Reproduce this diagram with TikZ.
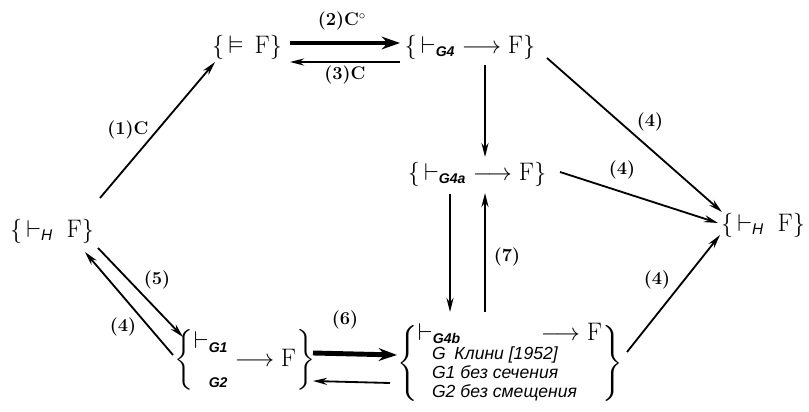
\documentclass[tikz,border=0pt]{standalone}
\usepackage{amsmath,amssymb}
\usepackage{fontspec}
\usetikzlibrary{arrows.meta,calc}
\newfontfamily\subfont{Liberation Sans}
\newcommand{\gsub}[1]{\mbox{\fontsize{10}{12}\selectfont\subfont\bfseries\itshape #1}}
\newcommand{\hsub}{\mbox{\fontsize{11}{12}\selectfont\subfont\itshape H}}
\newcommand{\rline}[1]{{\fontsize{12.5}{13.5}\selectfont\subfont\itshape\hspace*{10pt}#1}}

\begin{document}
\begin{tikzpicture}[x=0.025cm, y=-0.025cm,
  term/.style={inner sep=1pt, font=\fontsize{18}{22}\selectfont},
  lab/.style={inner sep=0pt, font=\fontsize{13}{15}\selectfont\bfseries},
  arr/.style={line width=1.3pt, -{Stealth[length=10pt, width=5pt]}},
  fatarr/.style={line width=3.5pt, -{Stealth[length=13pt, width=9pt]}}]
\useasboundingbox (0,0) rectangle (809,412);

\node[term] (hl) at (52,231) {$\{\,\vdash_{\hsub}\;\mathrm{F}\}$};
\node[term] (models) at (247,47) {$\{\,\vDash\,\mathrm{F}\}$};
\node[term] (g4) at (470,47) {$\{\,\vdash_{\gsub{G4}}\;\longrightarrow\mathrm{F}\}$};
\node[term] (g4a) at (477,174) {$\{\,\vdash_{\gsub{G4a}}\;\longrightarrow\mathrm{F}\}$};
\node[term] (hr) at (763,225) {$\{\,\vdash_{\hsub}\;\mathrm{F}\}$};
\node[term] (g12) at (245,360) {$\left\{\begin{array}{@{}l@{}}\vdash_{\gsub{G1}}\\[3pt]\phantom{\vdash}_{\gsub{G2}}\end{array}\longrightarrow\mathrm{F}\right\}$};
\node[term] (g4b) at (510,363) {$\left\{\vcenter{\hbox{\fontsize{12.5}{13.5}\selectfont\begin{tabular}{@{}p{4.6cm}@{}}
  {\fontsize{18}{22}\selectfont$\vdash_{\gsub{G4b}}$\hfill$\longrightarrow\mathrm{F}$}\\[0pt]
  \rline{G\enspace Клини [1952]}\\
  \rline{G1 без сечения}\\
  \rline{G2 без смещения}
\end{tabular}}}\right\}$};

\node[lab] (l1) at (128,130) {(1)C};
\node[lab] (l2) at (342,21) {(2)C$^{\circ}$};
\node[lab] (l3) at (345,75) {(3)C};
\node[lab] (l4a) at (650,122) {(4)};
\node[lab] (l4b) at (622,170) {(4)};
\node[lab] (l4c) at (657,280) {(4)};
\node[lab] (l5) at (157,280) {(5)};
\node[lab] (l4d) at (123,327) {(4)};
\node[lab] (l6) at (345,320) {(6)};
\node[lab] (l7) at (507,257) {(7)};

\draw[arr] ($(hl)+(48,-33)$) -- ($(models)+(-32,15)$);
\draw[fatarr] ($(models)+(43,-4)$) -- ($(g4)+(-70,-4)$);
\draw[arr] ($(g4)+(-70,15)$) -- ($(models)+(43,15)$);
\draw[arr] ($(g4)+(15,18)$) -- ($(g4a)+(8,-17)$);
\draw[arr] ($(g4)+(77,11)$) -- ($(hr)+(-41,-13)$);
\draw[arr] ($(g4a)+(83,-2)$) -- ($(hr)+(-45,-2)$);
\draw[arr] ($(g4b)+(117,-11)$) -- ($(hr)+(-43,10)$);
\draw[arr] ($(hl)+(46,17)$) -- ($(g12)+(-62,-23)$);
\draw[arr] ($(g12)+(-72,-5)$) -- ($(hl)+(33,21)$);
\draw[fatarr] ($(g12)+(68,-7)$) -- ($(g4b)+(-113,-8)$);
\draw[arr] ($(g4b)+(-120,20)$) -- ($(g12)+(68,21)$);
\draw[arr] ($(g4a)+(-27,20)$) -- ($(g4b)+(-60,-51)$);
\draw[arr] ($(g4b)+(-25,-51)$) -- ($(g4a)+(8,19)$);
\end{tikzpicture}
\end{document}
